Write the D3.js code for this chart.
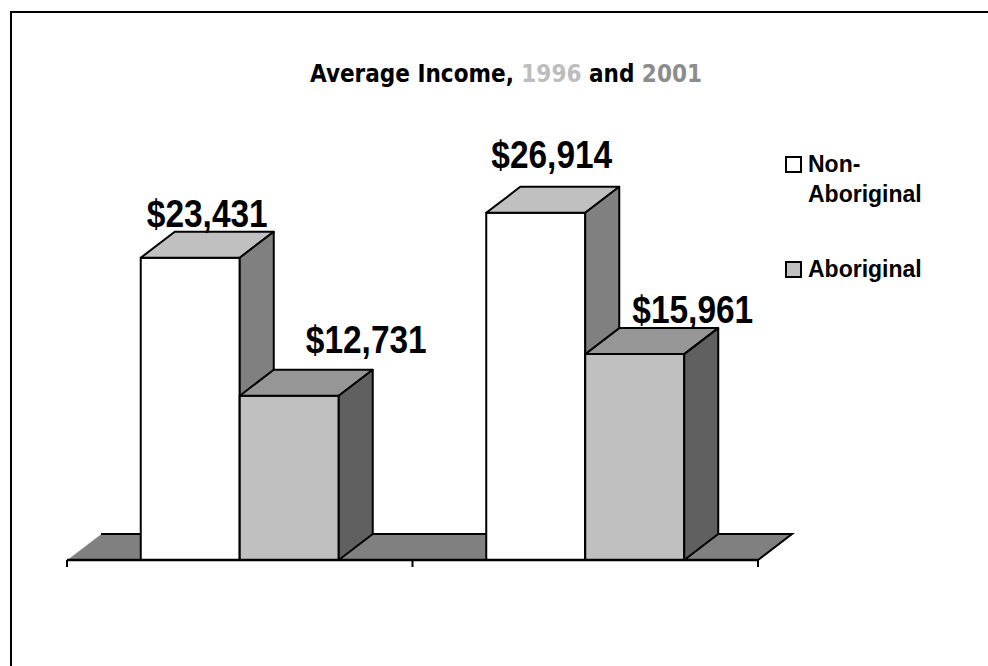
<!DOCTYPE html>
<html>
<head>
<meta charset="utf-8">
<script src="https://cdn.jsdelivr.net/npm/d3@7"></script>
<style>
  html, body { margin: 0; padding: 0; background: #fff; }
  svg { display: block; }
</style>
</head>
<body>
<svg id="chart" width="988" height="666"></svg>
<script>
// Average income by year and population group
const years = ["1996", "2001"];
const series = ["Non-Aboriginal", "Aboriginal"];
const nonAboriginal = [23431, 26914];
const aboriginal = [12731, 15961];
const valueLabels = ["$23,431", "$12,731", "$26,914", "$15,961"];
// label nudges [dx, dy] for each bar (1996 non-abor., 1996 abor., 2001 non-abor., 2001 abor.)
const labelNudge = [[0, -5], [60, -17], [-1, -19], [41, -5]];

const W = 988, H = 666;
const svg = d3.select("#chart");

// frame
svg.append("path")
  .attr("d", `M11,${H + 5} L11,12 L${W + 5},12`)
  .attr("fill", "none").attr("stroke", "#000").attr("stroke-width", 2);

// scales
const x = d3.scaleBand().domain(years).range([67, 758]).paddingInner(0).paddingOuter(0);
const xs = d3.scaleBand().domain(series).range([0, x.bandwidth()]).paddingInner(0).paddingOuter(0.745);
const y = d3.scaleLinear().domain([0, 30000]).range([560, 173]);

// 3-D depth offset
const DX = 34, DY = -26;

const faceColors = {
  "Non-Aboriginal": { front: "#ffffff", top: "#c0c0c0", side: "#808080" },
  "Aboriginal":     { front: "#c0c0c0", top: "#969696", side: "#606060" }
};

// floor
const y0 = y(0);
const fx0 = x.range()[0], fx1 = x.range()[1];
const g = svg.append("g");
g.append("path")
  .attr("d", `M${fx0},${y0} L${fx0 + DX},${y0 + DY} L${fx1 + DX},${y0 + DY} L${fx1},${y0} Z`)
  .attr("fill", "#808080").attr("stroke", "none");
g.append("line")
  .attr("x1", fx0).attr("y1", y0).attr("x2", fx0 + DX).attr("y2", y0 + DY)
  .attr("stroke", "#e6e6e6").attr("stroke-width", 1);
g.append("path")
  .attr("d", `M${fx0 + DX},${y0 + DY} L${fx1 + DX},${y0 + DY} L${fx1},${y0}`)
  .attr("fill", "none").attr("stroke", "#000").attr("stroke-width", 2);

// bars
const bars = [];
years.forEach((yr, i) => {
  bars.push({ year: yr, s: series[0], v: nonAboriginal[i] });
  bars.push({ year: yr, s: series[1], v: aboriginal[i] });
});

const barG = svg.append("g")
  .attr("stroke", "#000").attr("stroke-width", 2).attr("stroke-linejoin", "round");

bars.forEach(d => {
  const x0 = x(d.year) + xs(d.s);
  const x1 = x0 + xs.bandwidth();
  const yt = y(d.v);
  const c = faceColors[d.s];
  // front
  barG.append("path")
    .attr("d", `M${x0},${y0} L${x0},${yt} L${x1},${yt} L${x1},${y0} Z`)
    .attr("fill", c.front);
  // top
  barG.append("path")
    .attr("d", `M${x0},${yt} L${x0 + DX},${yt + DY} L${x1 + DX},${yt + DY} L${x1},${yt} Z`)
    .attr("fill", c.top);
  // side
  barG.append("path")
    .attr("d", `M${x1},${yt} L${x1 + DX},${yt + DY} L${x1 + DX},${y0 + DY} L${x1},${y0} Z`)
    .attr("fill", c.side);
});

// axis line and ticks at category boundaries
const axisG = svg.append("g").attr("stroke", "#000");
axisG.append("line")
  .attr("x1", fx0).attr("x2", fx1).attr("y1", y0).attr("y2", y0)
  .attr("stroke-width", 2.5);
const tickXs = years.map(yr => x(yr)).concat([fx1]);
axisG.selectAll("line.tick").data(tickXs).join("line")
  .attr("class", "tick")
  .attr("x1", d => d).attr("x2", d => d)
  .attr("y1", y0).attr("y2", y0 + 7)
  .attr("stroke-width", 2);

// value labels: bold sans, horizontally condensed
svg.append("g").selectAll("text").data(bars).join("text")
  .attr("transform", (d, i) => {
    const cx = x(d.year) + xs(d.s) + xs.bandwidth() / 2 + DX / 2 + labelNudge[i][0];
    const by = y(d.v) + DY + labelNudge[i][1];
    return `translate(${cx},${by}) scale(0.88,1)`;
  })
  .attr("text-anchor", "middle")
  .attr("font-family", "'Liberation Sans', Arial, sans-serif")
  .attr("font-weight", "bold")
  .attr("font-size", 38)
  .attr("fill", "#000")
  .text((d, i) => valueLabels[i]);

// title
const title = svg.append("text")
  .attr("x", 506).attr("y", 82)
  .attr("text-anchor", "middle")
  .attr("font-family", "'DejaVu Sans Condensed', 'DejaVu Sans', sans-serif")
  .attr("font-stretch", "condensed")
  .attr("font-weight", "bold")
  .attr("font-size", 24)
  .attr("fill", "#000");
title.append("tspan").text("Average Income, ");
title.append("tspan").attr("fill", "#bdbdbd").text(years[0]);
title.append("tspan").text(" and ");
title.append("tspan").attr("fill", "#8c8c8c").text(years[1]);

// legend
const legend = svg.append("g")
  .attr("font-family", "'Liberation Sans', Arial, sans-serif")
  .attr("font-weight", "bold")
  .attr("font-size", 23);
const legendItems = [
  { s: series[0], lines: ["Non-", "Aboriginal"], y: 156 },
  { s: series[1], lines: ["Aboriginal"], y: 261 }
];
legendItems.forEach(it => {
  legend.append("rect")
    .attr("x", 786).attr("y", it.y + 1).attr("width", 15).attr("height", 15)
    .attr("fill", faceColors[it.s].front)
    .attr("stroke", "#000").attr("stroke-width", 2);
  const t = legend.append("text").attr("x", 808).attr("y", it.y + 16).attr("fill", "#000");
  it.lines.forEach((ln, k) => {
    t.append("tspan").attr("x", 808).attr("dy", k === 0 ? 0 : 30).text(ln);
  });
});
</script>
</body>
</html>
